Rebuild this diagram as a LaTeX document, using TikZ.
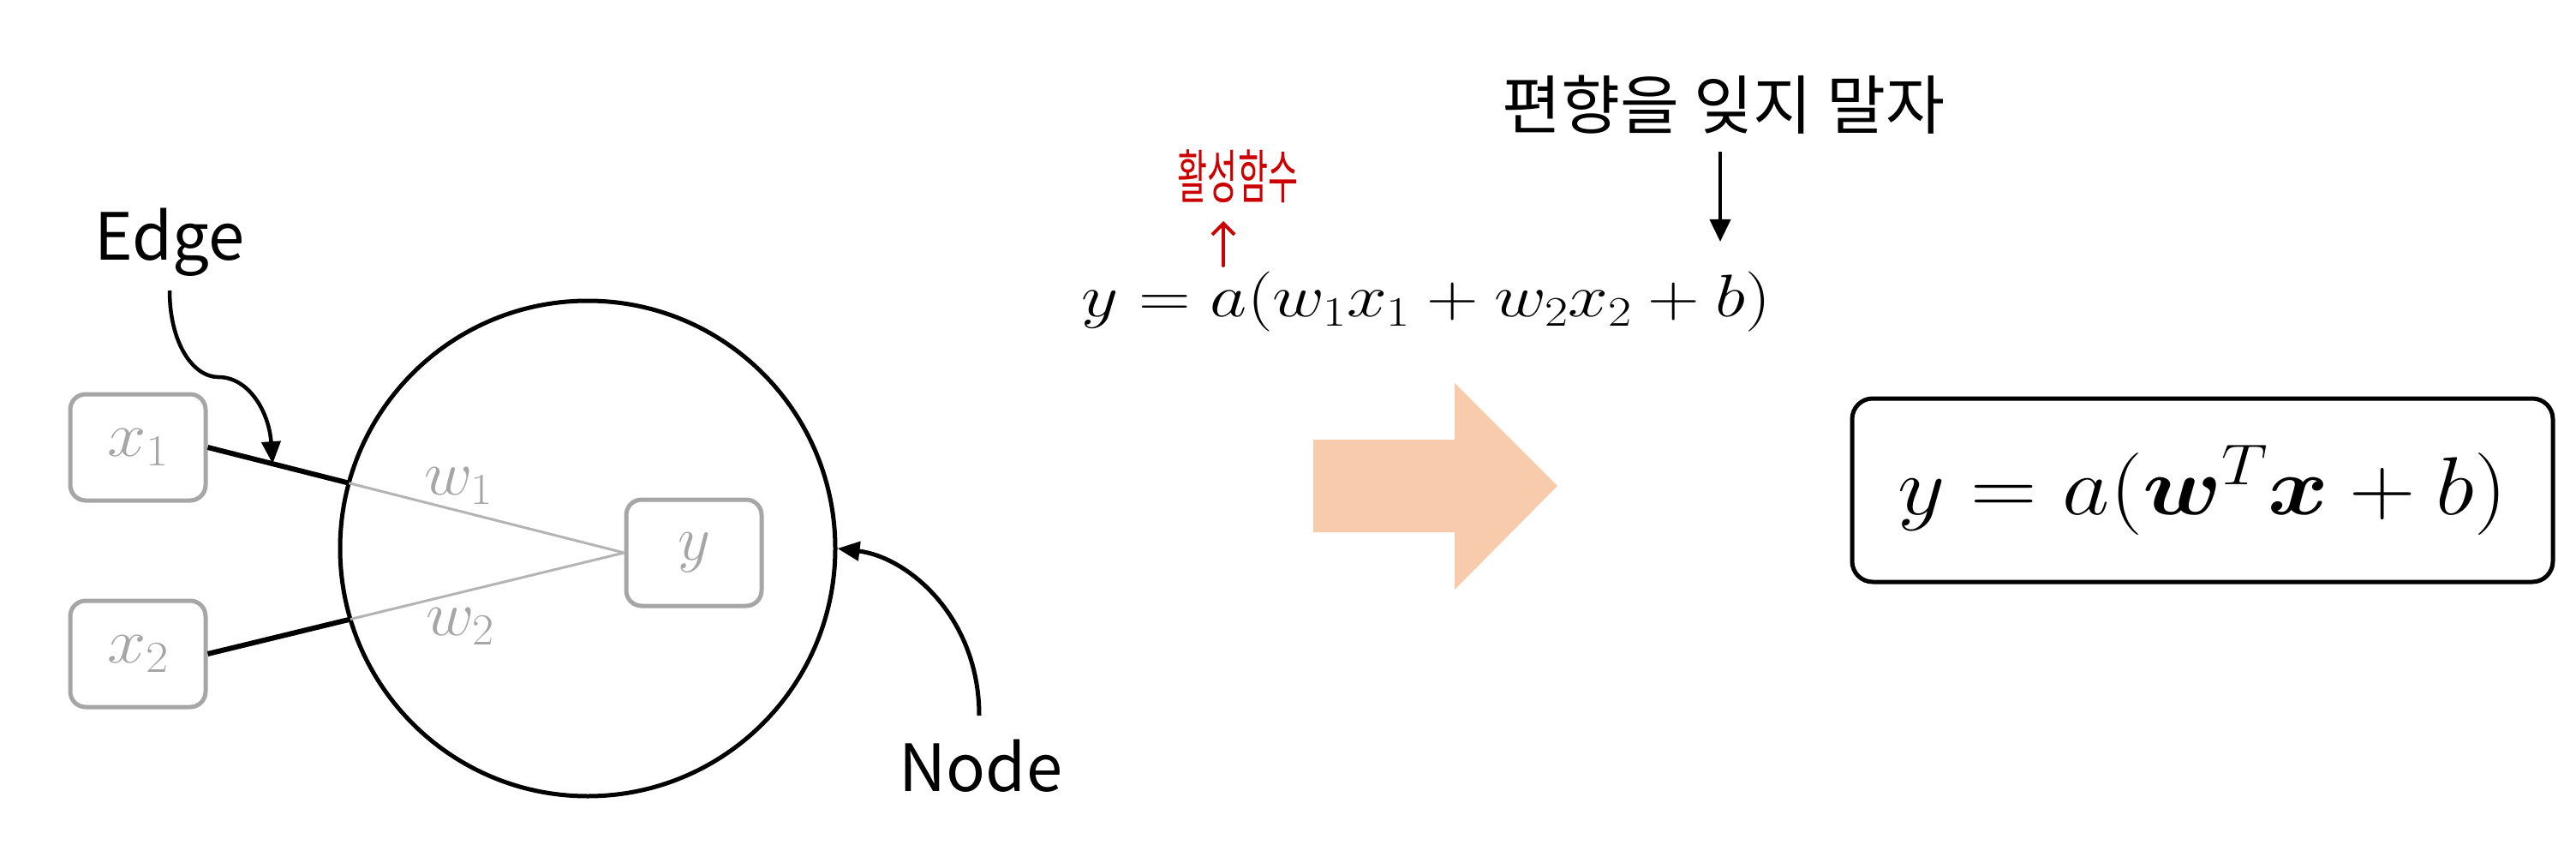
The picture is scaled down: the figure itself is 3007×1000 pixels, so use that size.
\RequirePackage{fix-cm}
\documentclass[tikz,border=0pt]{standalone}
\usepackage{amsmath,bm}
\usepackage{graphicx}
\usepackage{fontspec}
\newfontfamily\kr{Noto Sans CJK KR}
\usetikzlibrary{arrows.meta,intersections,calc}
\definecolor{lgray}{HTML}{A6A6A6}
\definecolor{linegray}{HTML}{B4B4B4}
\definecolor{peach}{HTML}{F8CBAD}
\definecolor{actred}{HTML}{CC0000}
\begin{document}
\begin{tikzpicture}[x=1pt,y=-1pt,
  gbox/.style={draw=lgray, line width=5pt, rounded corners=18pt, minimum width=158pt, minimum height=124pt, inner sep=0pt, text=lgray, font=\fontsize{74}{80}\selectfont},
  lbl/.style={text=lgray, font=\fontsize{74}{80}\selectfont, inner sep=0pt},
  callout/.style={line width=4.5pt, -{Triangle[length=26pt,width=22pt]}},
  word/.style={font=\kr\fontsize{76}{90}\selectfont, inner sep=0pt}
]
\useasboundingbox (0,0) rectangle (3007,1000);

% left: neuron
\node[gbox] (x1) at (161,522) {\scalebox{1.1}[1]{$x_1$}};
\node[gbox] (x2) at (161,763) {\scalebox{1.1}[1]{$x_2$}};
\node[gbox] (y) at (810,645) {$y$};
\node[circle, draw, line width=5pt, minimum size=578pt, inner sep=0pt, name path=cellp] (cell) at (686,640) {};

\path[name path=l1] (x1.east) -- (y.west);
\path[name path=l2] (x2.east) -- (y.west);
\path[name intersections={of=l1 and cellp, by=i1}];
\path[name intersections={of=l2 and cellp, by=i2}];
\draw[linegray, line width=3pt] (i1) -- (y.west);
\draw[linegray, line width=3pt] (i2) -- (y.west);
\draw[line width=6pt] (x1.east) -- (i1);
\draw[line width=6pt] (x2.east) -- (i2);

\node[lbl] (w1) at (535,567) {\scalebox{1.05}[1]{$w_1$}};
\node[lbl] (w2) at (537,731) {\scalebox{1.05}[1]{$w_2$}};

% Edge label
\node[word, anchor=base] (edge) at (198,304) {Edge};
\coordinate (estart) at (198,339);
\coordinate (etip) at ($(x1.east)!0.46!(i1)$);
\draw[callout] (estart) .. controls (198,400) and (225,440) .. (255,440) .. controls (290,440) and (314,480) .. (etip);

% Node label
\node[word, anchor=base] (nodelbl) at (1145,923) {Node};
\coordinate (nstart) at (1143,835);
\draw[callout, line width=5pt] (nstart) .. controls (1143,720) and (1060,650) .. (cell.east);

% formula 1
\node[anchor=base, inner sep=0pt, font=\fontsize{70}{76}\selectfont] (eq1) at (1665,370) {\scalebox{1.2}[1]{$y = a(w_1x_1 + w_2x_2 + b)$}};

% activation note
\node[text=actred, inner sep=0pt, font=\kr\fontsize{68}{74}\selectfont] (act) at (1445,206) {\scalebox{0.56}[1]{활성함수}};
\coordinate (ra) at (1428,310);
\coordinate (rb) at (1428,258);
\draw[actred, line width=4pt, line cap=round, -{Straight Barb[length=13pt,width=26pt]}] (ra) -- (rb);

% bias note
\node[word, font=\kr\fontsize{75}{80}\selectfont] (bias) at (2012,122) {편향을 잊지 말자};
\coordinate (bstart) at (2008,177);
\coordinate (bend) at (2008,282);
\draw[line width=4pt, -{Triangle[length=26pt,width=24pt]}] (bstart) -- (bend);

% big arrow
\fill[peach] (1533,513) -- (1698,513) -- (1698,447) -- (1818,567) -- (1698,688) -- (1698,621) -- (1533,621) -- cycle;

% result box
\node[draw, line width=5pt, rounded corners=24pt, minimum width=818pt, minimum height=214pt, inner sep=0pt, font=\fontsize{96}{100}\selectfont] (box) at (2571,572) {\scalebox{1.12}[1]{$y = a(\bm{w}^T\bm{x} + b)$}};
\end{tikzpicture}
\end{document}
